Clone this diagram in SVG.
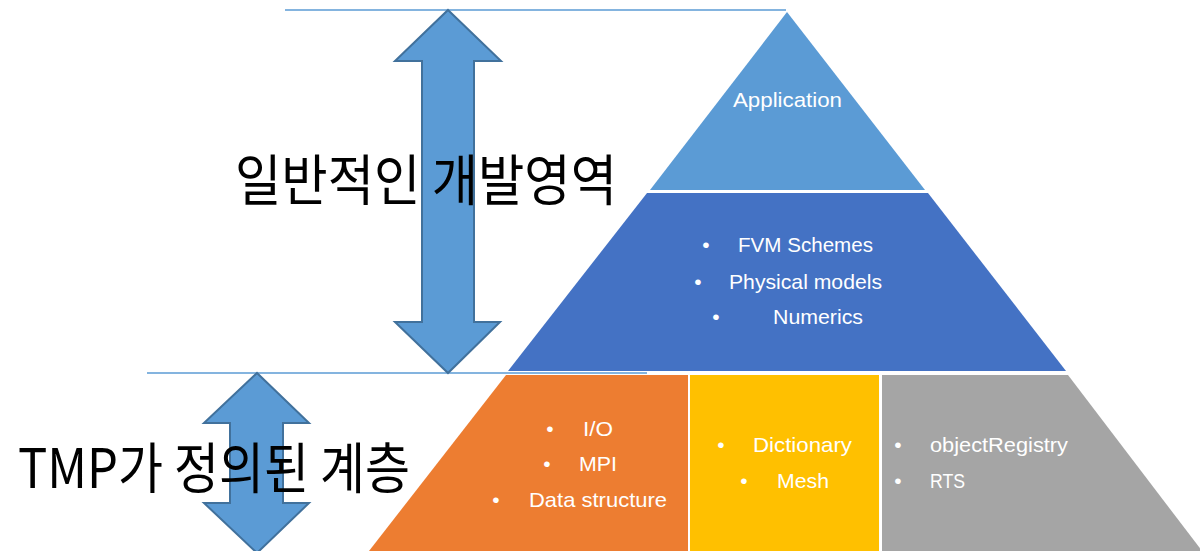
<svg xmlns="http://www.w3.org/2000/svg" width="1200" height="551" viewBox="0 0 1200 551">
<style>
.lbl{font-family:"Liberation Sans",Arial,sans-serif;font-size:21px;fill:#ffffff}
.big{font-family:"Noto Sans CJK KR","Noto Sans",sans-serif;font-size:55px;fill:#000000}
.arr{fill:#5B9BD5;stroke:#41719C;stroke-width:2;stroke-linejoin:miter}
.ln{stroke:#5B9BD5;stroke-width:1.5;fill:none}
</style>
<rect width="1200" height="551" fill="#ffffff"/>
<g id="connectors">
<line class="ln" x1="285" y1="10" x2="786" y2="10"/>
<line class="ln" x1="147" y1="373" x2="647" y2="373"/>
<polygon class="arr" points="448,10 501,61 474,61 474,322 500,322 448,373 395,322 422,322 422,61 395,61"/>
<polygon class="arr" points="257,373 309,423 283,423 283,503 309,503 257,553 204,503 230,503 230,423 204,423"/>
</g>
<g id="layer-application">
<polygon points="787,12 925,190 650,190" fill="#5B9BD5"/>
<text class="lbl" x="733" y="107" textLength="109" lengthAdjust="spacingAndGlyphs">Application</text>
</g>
<g id="layer-middle">
<polygon points="647,193 928,193 1066,371 508,371" fill="#4472C4"/>
<text class="lbl" x="706" y="252" text-anchor="middle">•</text><text class="lbl" x="738" y="252" textLength="135" lengthAdjust="spacingAndGlyphs">FVM Schemes</text>
<text class="lbl" x="698" y="289" text-anchor="middle">•</text><text class="lbl" x="729" y="289" textLength="153" lengthAdjust="spacingAndGlyphs">Physical models</text>
<text class="lbl" x="716" y="324" text-anchor="middle">•</text><text class="lbl" x="773" y="324" textLength="90" lengthAdjust="spacingAndGlyphs">Numerics</text>
</g>
<g id="layer-orange">
<polygon points="506,375 688,375 688,551 369,551" fill="#ED7D31"/>
<text class="lbl" x="550" y="436" text-anchor="middle">•</text><text class="lbl" x="583" y="436" textLength="30" lengthAdjust="spacingAndGlyphs">I/O</text>
<text class="lbl" x="547" y="471" text-anchor="middle">•</text><text class="lbl" x="579" y="471" textLength="38" lengthAdjust="spacingAndGlyphs">MPI</text>
<text class="lbl" x="496" y="507" text-anchor="middle">•</text><text class="lbl" x="529" y="507" textLength="138" lengthAdjust="spacingAndGlyphs">Data structure</text>
</g>
<g id="layer-yellow">
<rect x="690" y="375" width="189" height="176" fill="#FFC000"/>
<text class="lbl" x="721" y="452" text-anchor="middle">•</text><text class="lbl" x="753" y="452" textLength="99" lengthAdjust="spacingAndGlyphs">Dictionary</text>
<text class="lbl" x="744" y="488" text-anchor="middle">•</text><text class="lbl" x="777" y="488" textLength="52" lengthAdjust="spacingAndGlyphs">Mesh</text>
</g>
<g id="layer-gray">
<polygon points="882,375 1068,375 1202,551 882,551" fill="#A5A5A5"/>
<text class="lbl" x="898" y="452" text-anchor="middle">•</text><text class="lbl" x="930" y="452" textLength="138" lengthAdjust="spacingAndGlyphs">objectRegistry</text>
<text class="lbl" x="898" y="488" text-anchor="middle">•</text><text class="lbl" x="930" y="488" textLength="35" lengthAdjust="spacingAndGlyphs">RTS</text>
</g>
<g id="label-general">
<text class="big" x="235" y="200" textLength="382" lengthAdjust="spacingAndGlyphs">일반적인 개발영역</text>
</g>
<g id="label-tmp">
<text class="big" x="18" y="488" textLength="392" lengthAdjust="spacingAndGlyphs">TMP가 정의된 계층</text>
</g>
</svg>
